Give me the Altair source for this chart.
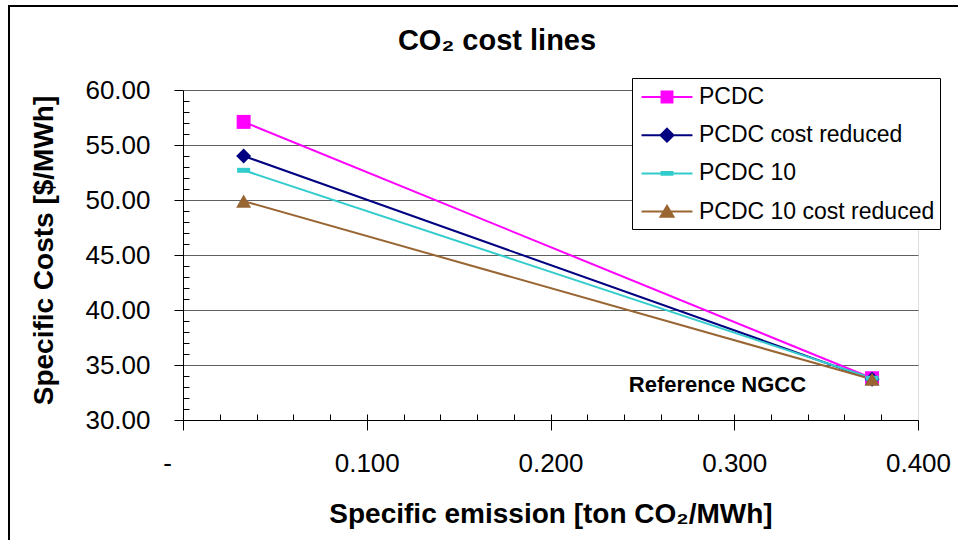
import altair as alt
import pandas as pd

# ---------------- data ----------------
title_text = ["CO₂ cost lines"]
series_names = ["PCDC", "PCDC cost reduced", "PCDC 10", "PCDC 10 cost reduced"]
series_colors = ["#FF00FF", "#000080", "#33CCCC", "#996633"]
emission = [0.033, 0.375]
cost_pcdc = [57.1, 33.8]
cost_pcdc_cr = [54.0, 33.7]
cost_pcdc10 = [52.7, 33.8]
cost_pcdc10_cr = [49.9, 33.7]

x_major_ticks = [0.0, 0.1, 0.2, 0.3, 0.4]
x_minor_ticks = [0.02, 0.04, 0.06, 0.08, 0.10, 0.12, 0.14, 0.16, 0.18, 0.20,
                 0.22, 0.24, 0.26, 0.28, 0.30, 0.32, 0.34, 0.36, 0.38]
y_major_ticks = [30, 35, 40, 45, 50, 55, 60]
y_minor_ticks = [31, 32, 33, 34, 36, 37, 38, 39, 41, 42, 43, 44, 46, 47, 48, 49,
                 51, 52, 53, 54, 56, 57, 58, 59]

ann_text = ["Reference NGCC"]
ann_x = [0.375]
ann_y = [33.75]

# marker shapes in the plot
marker_paths = [
    "M-0.93,-0.93H0.93V0.93H-0.93Z",
    "M0,-1L1,0L0,1L-1,0Z",
    "M-0.87,-0.33H0.87V0.33H-0.87Z",
    "M0,-0.87L1,0.87H-1Z",
]
# legend symbols: line + marker (markers hatched densely so the stroke fills them)
legend_paths = [
    "M-1.96,0H1.96M-0.42,-0.42H0.42V0.42H-0.42Z"
    "M-0.42,-0.3H0.42M-0.42,-0.18H0.42M-0.42,-0.06H0.42M-0.42,0.06H0.42"
    "M-0.42,0.18H0.42M-0.42,0.3H0.42",
    "M-1.96,0H1.96M0,-0.5L0.5,0L0,0.5L-0.5,0Z"
    "M-0.38,-0.12H0.38M-0.38,0.12H0.38M-0.26,-0.24H0.26M-0.26,0.24H0.26"
    "M-0.14,-0.36H0.14M-0.14,0.36H0.14",
    "M-1.96,0H1.96M-0.42,-0.1H0.42V0.1H-0.42Z",
    "M-1.96,0H1.96M0,-0.44L0.5,0.4H-0.5Z"
    "M-0.42,0.28H0.42M-0.35,0.16H0.35M-0.28,0.04H0.28M-0.21,-0.08H0.21"
    "M-0.14,-0.2H0.14",
]

rows = []
for name, costs in zip(series_names,
                       [cost_pcdc, cost_pcdc_cr, cost_pcdc10, cost_pcdc10_cr]):
    for e, c in zip(emission, costs):
        rows.append({"series": name, "emission": e, "cost": c})
df = pd.DataFrame(rows)
ann_df = pd.DataFrame({"text": ann_text, "emission": ann_x, "cost": ann_y})

FONT = "Liberation Sans"
xscale = alt.Scale(domain=[0, 0.4], nice=False, zero=False)
yscale = alt.Scale(domain=[30, 60], nice=False, zero=False)


def color_scale():
    return alt.Scale(domain=series_names, range=series_colors)


base = alt.Chart(df)

# outer frame
frame = alt.Chart(pd.DataFrame({"f": [0]})).mark_rect(
    fill="transparent", stroke="black", strokeWidth=2
).encode(x=alt.value(-174), x2=alt.value(900), y=alt.value(-84), y2=alt.value(600))

# chart title as text
title = alt.Chart(pd.DataFrame({"t": title_text})).mark_text(
    font=FONT, fontSize=29, fontWeight="bold", color="black",
    align="center", baseline="alphabetic"
).encode(x=alt.value(314), y=alt.value(-40), text="t:N")

lines = base.mark_line(strokeWidth=2).encode(
    x=alt.X("emission:Q", scale=xscale, axis=alt.Axis(
        values=x_major_ticks, orient="bottom", labelFlush=False,
        labelExpr="datum.value == 0 ? '-' : format(datum.value, '.3f')",
        labelOffset={"condition": {"test": "datum.value == 0", "value": -16}, "value": 0},
        labelFont=FONT, labelFontSize=26, labelColor="black",
        labelPadding=20, tickSize=10, tickColor="black",
        domainColor="black", grid=False,
        title="Specific emission [ton CO₂/MWh]",
        titleFont=FONT, titleFontSize=28, titleFontWeight="bold", titleColor="black",
        titleBaseline="alphabetic", titleY=102)),
    y=alt.Y("cost:Q", scale=yscale, axis=alt.Axis(
        values=y_major_ticks, orient="left", format=".2f", labelFlush=False,
        labelFont=FONT, labelFontSize=26, labelColor="black",
        labelPadding=24, tickSize=9, tickColor="black",
        domainColor="black", grid=True, gridColor="#606060",
        title="Specific Costs [$/MWh]",
        titleFont=FONT, titleFontSize=28, titleFontWeight="bold", titleColor="black",
        titleAngle=-90, titleAlign="center", titleBaseline="alphabetic",
        titleX=-131, titleY=160)),
    color=alt.Color("series:N", scale=color_scale(), legend=None),
    order="emission:Q",
)

# data markers: one layer per series with its own marker shape
marker_layers = [
    base.transform_filter(alt.datum.series == name).mark_point(
        filled=True, opacity=1, size=225, strokeWidth=0, shape=path
    ).encode(
        x=alt.X("emission:Q", scale=xscale, axis=None),
        y=alt.Y("cost:Q", scale=yscale, axis=None),
        color=alt.Color("series:N", scale=color_scale(), legend=None),
    )
    for name, path in zip(series_names, marker_paths)
]

legend_props = dict(
    title=None, orient="none", legendX=449, legendY=-12,
    symbolSize=676, symbolStrokeWidth=2, symbolOpacity=1,
    labelFont=FONT, labelFontSize=23, labelColor="black", labelLimit=600,
    labelOffset=18, symbolOffset=16,
    labelExpr="datum.label + '\u00a0\u00a0\u00a0\u00a0\u00a0\u00a0'",
    padding=5, rowPadding=12.2,
    strokeColor="black", fillColor="white",
)

legend_layer = base.mark_point(filled=False, opacity=0, strokeWidth=2).encode(
    x=alt.X("emission:Q", scale=xscale, axis=None),
    y=alt.Y("cost:Q", scale=yscale, axis=None),
    color=alt.Color("series:N", scale=color_scale(), legend=alt.Legend(**legend_props)),
    shape=alt.Shape("series:N", scale=alt.Scale(domain=series_names, range=legend_paths),
                    legend=alt.Legend(**legend_props)),
)

minor_axes = base.mark_point(opacity=0).encode(
    x=alt.X("emission:Q", scale=xscale, axis=alt.Axis(
        values=x_minor_ticks, orient="bottom", offset=-6, tickSize=6,
        tickColor="black", domain=False, labels=False, grid=False, title=None)),
    y=alt.Y("cost:Q", scale=yscale, axis=alt.Axis(
        values=y_minor_ticks, orient="left", offset=-6, tickSize=6,
        tickColor="black", domain=False, labels=False, grid=False, title=None)),
)

text = alt.Chart(ann_df).mark_text(
    font=FONT, fontSize=22, fontWeight="bold", color="black",
    align="right", baseline="alphabetic", dx=-66, dy=13
).encode(
    x=alt.X("emission:Q", scale=xscale, axis=None),
    y=alt.Y("cost:Q", scale=yscale, axis=None),
    text="text:N",
)

chart = alt.layer(frame, title, lines, minor_axes, *marker_layers, legend_layer, text
).resolve_scale(
    color="independent", shape="independent"
).resolve_legend(
    color="independent", shape="independent"
).resolve_axis(
    x="independent", y="independent"
).properties(
    width=735, height=330,
    autosize=alt.AutoSizeParams(type="none"),
    padding={"left": 183, "top": 90, "right": 40, "bottom": 120},
).configure_view(
    stroke="#808080", strokeWidth=1
).configure(background="white")

chart.save("out.html", embed_options={"renderer": "svg", "actions": False})
